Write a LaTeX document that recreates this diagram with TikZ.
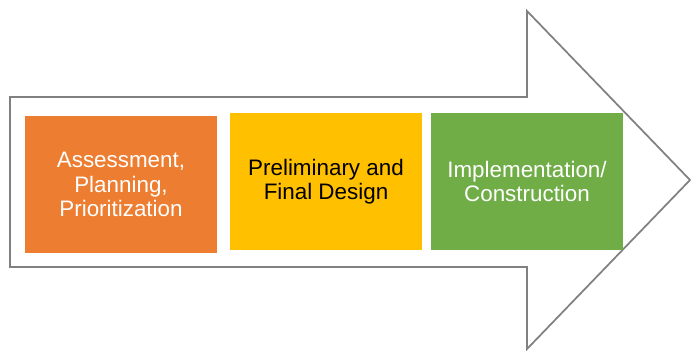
\documentclass[tikz,border=0pt]{standalone}
\usepackage{fontspec}
\setmainfont{Liberation Sans}
\usepackage{tikz}
\usetikzlibrary{positioning}
\usepackage{xcolor}
\definecolor{stageorange}{HTML}{ED7D31}
\definecolor{stageyellow}{HTML}{FFC000}
\definecolor{stagegreen}{HTML}{70AD47}
\definecolor{arrowgray}{HTML}{808080}

\begin{document}
\begin{tikzpicture}[
  x=0.75pt, y=-0.75pt,
  bigarrow/.style={draw=arrowgray,fill=white,line width=1.3pt,line join=miter},
  stage/.style={rectangle,minimum width=144pt,minimum height=102.75pt,inner sep=2pt,
    align=center,font=\fontsize{16.8}{18.2}\selectfont}]
\useasboundingbox (0,0) rectangle (691,350);
\draw[bigarrow] (10,97) -- (527,97) -- (527,11) -- (690,180) -- (527,349)
  -- (527,267) -- (10,267) -- cycle;
\node[stage,fill=stageorange,text=white] (assess) at (121,184.5)
  {Assessment,\\Planning,\\Prioritization};
\node[stage,fill=stageyellow,text=black] (design) at (326,181.5)
  {Preliminary and\\Final Design};
\node[stage,fill=stagegreen,text=white] (build) at (527,181.5)
  {Implementation/\\Construction};
\end{tikzpicture}
\end{document}
